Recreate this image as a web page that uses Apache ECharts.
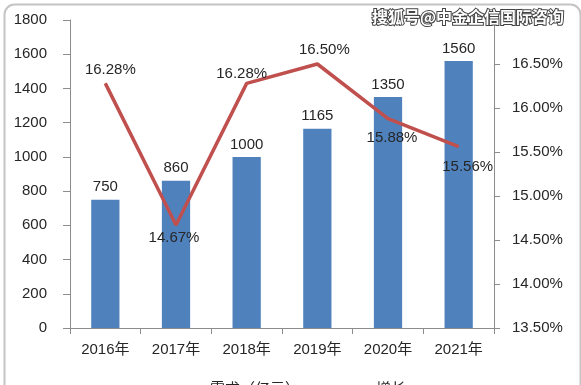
<!DOCTYPE html>
<html>
<head>
<meta charset="utf-8">
<script src="https://cdn.jsdelivr.net/npm/echarts@6/dist/echarts.min.js"></script>
<style>
html,body{margin:0;padding:0;background:#fff;}
#c{width:581px;height:385px;}
</style>
</head>
<body>
<div id="c"></div>
<script>
const categories = ['2016年','2017年','2018年','2019年','2020年','2021年'];
const demand = [750, 860, 1000, 1165, 1350, 1560];
const growth = [16.28, 14.67, 16.28, 16.50, 15.88, 15.56];
const demandName = '需求（亿元）';
const growthName = '增长';
const watermark = '搜狐号@中金企信国际咨询';
// label offsets (style only) for the growth labels
const growthLabelOffsets = [[5,-14],[-2,13],[-5,-10],[7,-14],[4,19],[9,20]];

const FONT = '"Liberation Sans", "Noto Sans CJK SC", sans-serif';
const TXT = '#262626';
const AX = '#8c8c8c';

const chart = echarts.init(document.getElementById('c'), null, {renderer:'canvas'});
chart.setOption({
  animation:false,
  backgroundColor:'#fff',
  textStyle:{fontFamily:FONT},
  grid:{left:70, right:87, top:20, bottom:57, containLabel:false},
  legend:{
    bottom:-17, left:'center',
    itemWidth:30, itemHeight:8, itemGap:40,
    textStyle:{fontFamily:FONT, fontSize:15, color:TXT},
    data:[demandName, growthName]
  },
  xAxis:{
    type:'category', data:categories,
    axisLine:{lineStyle:{color:AX, width:1}},
    axisTick:{show:true, alignWithLabel:false, length:6, lineStyle:{color:AX}},
    axisLabel:{fontFamily:FONT, fontSize:15, color:TXT, margin:14}
  },
  yAxis:[{
    type:'value', min:0, max:1800, interval:200,
    axisLine:{show:true, lineStyle:{color:AX}},
    axisTick:{show:true, length:7, lineStyle:{color:AX}},
    splitLine:{show:false},
    axisLabel:{fontFamily:FONT, fontSize:15, color:TXT, margin:23, formatter:v=>String(v)}
  },{
    type:'value', min:13.5, max:17, interval:0.5,
    axisLine:{show:true, lineStyle:{color:AX}},
    axisTick:{show:true, length:6, lineStyle:{color:AX}},
    splitLine:{show:false},
    axisLabel:{fontFamily:FONT, fontSize:15, color:TXT, margin:18, showMaxLabel:false,
      formatter:v=>v.toFixed(2)+'%'}
  }],
  series:[{
    name:demandName, type:'bar', data:demand, barWidth:'40%',
    itemStyle:{color:'#4F81BD'},
    label:{show:true, position:'top', distance:5, fontFamily:FONT, fontSize:15, color:TXT}
  },{
    name:growthName, type:'line', yAxisIndex:1,
    data:growth.map((v,i)=>({value:v, label:{offset:growthLabelOffsets[i]}})),
    symbol:'circle', symbolSize:1, showSymbol:true,
    lineStyle:{color:'#C0504D', width:3.5},
    itemStyle:{color:'#C0504D'},
    z:5,
    label:{show:true, position:'inside', fontFamily:FONT, fontSize:15, color:TXT,
      formatter:p=>p.value.toFixed(2)+'%'}
  }],
  graphic:[{
    type:'rect', left:2, top:2, silent:true,
    shape:{width:576, height:400, r:10},
    style:{fill:'none', stroke:'#c4c4c4', lineWidth:2}, z:100
  },{
    type:'text', right:16, top:8, z:101,
    style:{text:watermark, fill:'#fff', stroke:'#444', lineWidth:2,
      font:'bold 16px "Noto Sans CJK SC", sans-serif'}
  }]
});
</script>
</body>
</html>
